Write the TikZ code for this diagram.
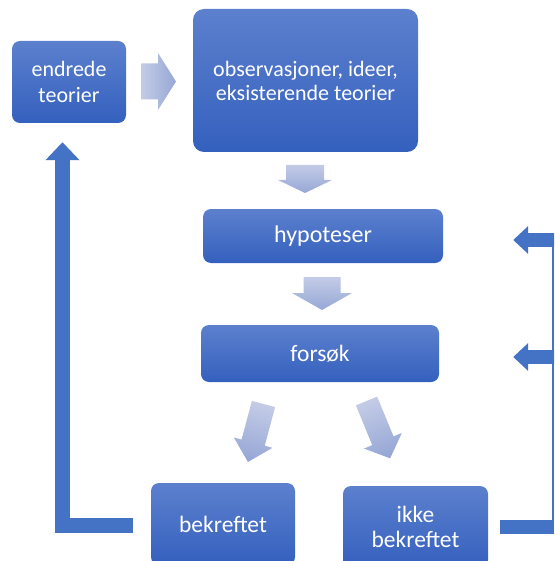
\documentclass[tikz,border=0pt]{standalone}
\usepackage{fontspec}
\setmainfont{Carlito}
\usetikzlibrary{arrows.meta,calc}
\definecolor{boxtop}{HTML}{5C80CD}
\definecolor{boxbot}{HTML}{3460BE}
\definecolor{lighttail}{HTML}{C3CBE6}
\definecolor{lighttip}{HTML}{97A8D6}
\definecolor{connblue}{HTML}{4472C4}
% x y angle length shaftwidth headwidth headlength
\newcommand{\blockarr}[7]{%
  \begin{scope}[shift={(#1,#2)},rotate=#3]
    \shade[top color=lighttail,bottom color=lighttip,shading angle={#3+90}]
      (0,-#5/2) -- ({#4-#7},-#5/2) -- ({#4-#7},-#6/2) -- (#4,0)
      -- ({#4-#7},#6/2) -- ({#4-#7},#5/2) -- (0,#5/2) -- cycle;
  \end{scope}}
\begin{document}
\begin{tikzpicture}[x=1pt,y=-1pt,
  box/.style={rounded corners=8pt, top color=boxtop, bottom color=boxbot,
    text=white, align=center, inner sep=0pt},
  conn/.style={draw=connblue, line join=miter}]
\useasboundingbox (0,0) rectangle (554,561);
\clip (0,0) rectangle (554,561);
% boxes
\node[box, minimum width=114pt, minimum height=82pt,
  font=\fontsize{22}{26}\selectfont] (endr) at (69,82) {endrede\\teorier};
\node[box, rounded corners=11pt, minimum width=225pt, minimum height=143pt,
  font=\fontsize{22}{24}\selectfont] (obs) at (305.5,80.5)
  {observasjoner, ideer,\\eksisterende teorier};
\node[box, minimum width=240pt, minimum height=54pt,
  font=\fontsize{24}{28}\selectfont] (hyp) at (323,236) {hypoteser};
\node[box, minimum width=238pt, minimum height=57pt,
  font=\fontsize{23.5}{28}\selectfont] (fors) at (320,353.5) {forsøk};
\node[box, minimum width=144pt, minimum height=82pt,
  font=\fontsize{23.5}{28}\selectfont] (bekr) at (223,524) {bekreftet};
\node[box, minimum width=145pt, minimum height=82pt,
  font=\fontsize{23.5}{25}\selectfont] (ikke) at (415.5,527) {ikke\\bekreftet};
% light block arrows
\blockarr{141}{81.5}{0}{35}{36}{57}{18}
\blockarr{305}{165}{-90}{28}{38}{54}{13}
\blockarr{322}{277}{-90}{33}{37}{60}{17}
\blockarr{263.5}{404}{-105}{60}{24}{40}{20}
\blockarr{366.5}{401}{-67.6}{62}{23}{41}{19}
% dark connectors
\draw[conn, line width=15pt, -{Triangle[length=18pt,width=33pt]}]
  ($(bekr.west)+(-18,1.5)$) -| ($(endr.south)+(-6.5,19)$);
\coordinate (re) at (554,527);
\draw[conn, line width=14pt] ($(ikke.east)+(12,0)$) -- (re);
\coordinate (vt) at (552.5,233);
\coordinate (vb) at (552.5,534);
\draw[conn, line width=2pt] (vt) -- (vb);
\coordinate (r1) at (555,240);
\coordinate (r2) at (555,357);
\draw[conn, line width=14pt, -{Triangle[length=15pt,width=27pt]}]
  (r1) -- ($(hyp.east)+(70,4)$);
\draw[conn, line width=14pt, -{Triangle[length=15pt,width=27pt]}]
  (r2) -- ($(fors.east)+(74,3.5)$);
\end{tikzpicture}
\end{document}
